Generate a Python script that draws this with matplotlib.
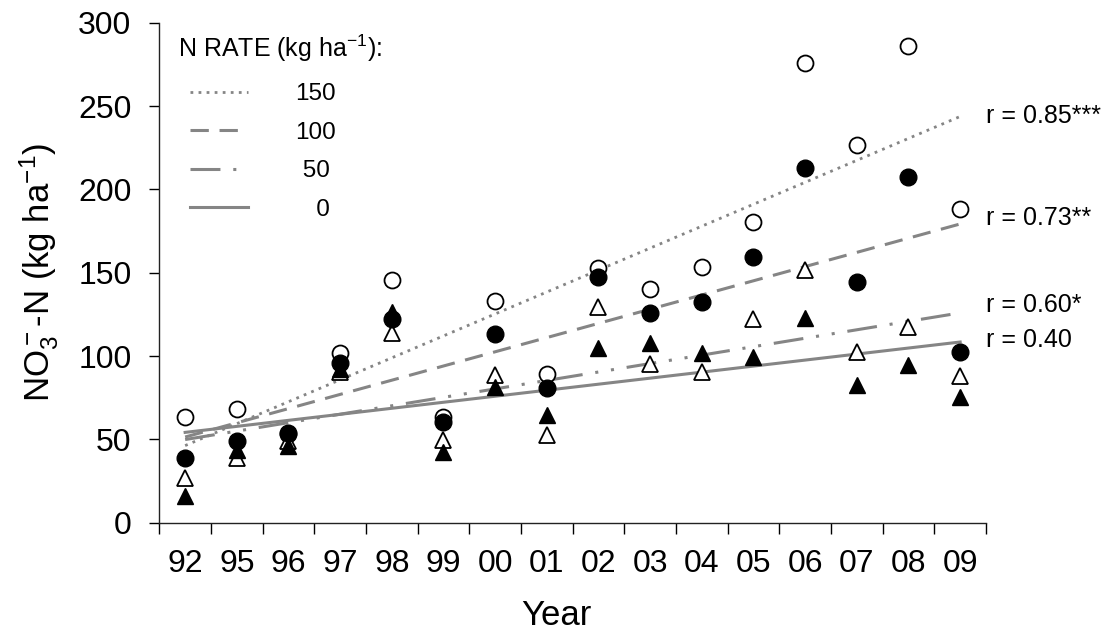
import matplotlib
matplotlib.use("Agg")
import matplotlib.pyplot as plt
import numpy as np

plt.rcParams['font.family'] = ['Liberation Sans', 'DejaVu Sans']
plt.rcParams['mathtext.fontset'] = 'custom'
plt.rcParams['mathtext.rm'] = 'Liberation Sans'
plt.rcParams['mathtext.it'] = 'Liberation Sans:italic'
plt.rcParams['mathtext.default'] = 'regular'

# data
years = ['92', '95', '96', '97', '98', '99', '00', '01',
         '02', '03', '04', '05', '06', '07', '08', '09']
n150 = [63.6, 68, 53, 101.6, 145.6, 63.5, 133.2, 89,
        152.6, 140.2, 153.2, 180.6, 275.6, 226.6, 285.8, 188]
n100 = [38.6, 49, 53.6, 95.6, 122.2, 60.6, 113.2, 80.6,
        147.6, 125.6, 132.2, 159.6, 212.6, 144.6, 207.2, 102.6]
n50 = [26.6, 38.6, 49, 90.6, 114, 49.6, 88.6, 52.6,
       129.2, 95, 90.6, 122.2, 151.6, 102.6, 117.6, 88]
n0 = [16, 43.6, 46, 92, 126.6, 42.2, 81.6, 64.6,
      104.6, 107.6, 101.6, 99.2, 122.6, 82.6, 94.6, 75.6]
rates = ['150', '100', '50', '0']
r_text = ['r = 0.85***', 'r = 0.73**', 'r = 0.60*', 'r = 0.40']

# styles / layout
gray = '#858585'
line_styles = [(0, (1, 1.9)), (0, (6, 3.5)), (0, (9.8, 4.2, 1, 4.2, 1, 4.2)), '-']
line_widths = [2.0, 2.2, 2.2, 2.2]
leg_labels = ['150', '100', ' 50', '   0']
r_offsets = [0, 3.5, 4.5, 1]

x = np.arange(len(years))

fig = plt.figure(figsize=(11.04, 6.34), dpi=100)
ax = fig.add_axes([0.1443, 0.1755, 0.7488, 0.7887])

# markers: open circle, open triangle, filled circle, filled triangle
ax.plot(x, n150, 'o', ms=11.5, mfc='white', mec='black', mew=1.3, zorder=3)
ax.plot(x, n50, '^', ms=11.5, mfc='white', mec='black', mew=1.3, zorder=3)
ax.plot(x, n100, 'o', ms=12, mfc='black', mec='black', mew=1, zorder=3)
ax.plot(x, n0, '^', ms=12, mfc='black', mec='black', mew=1, zorder=3)

# linear trend lines
handles = []
series = [n150, n100, n50, n0]
for i, ys in enumerate(series):
    k, b = np.polyfit(x, ys, 1)
    xs = np.array([x[0], x[-1]])
    ln, = ax.plot(xs, k * xs + b, color=gray, lw=line_widths[i],
                  linestyle=line_styles[i], zorder=2)
    handles.append(ln)
    ax.text(15.5, k * x[-1] + b + r_offsets[i], r_text[i], fontsize=18,
            ha='left', va='center', clip_on=False)

ax.set_xlim(-0.5, 15.5)
ax.set_ylim(0, 300)
ax.set_yticks(np.arange(0, 301, 50))
ax.set_xticks(x)
ax.set_xticklabels(years)
ax.set_xticks(np.arange(-0.5, 16, 1), minor=True)
ax.tick_params(axis='x', which='major', length=0, pad=19, labelsize=23)
ax.tick_params(axis='x', which='minor', length=8, width=1, direction='out')
ax.tick_params(axis='y', length=7, width=1, pad=13, labelsize=23, direction='out')

for s in ['top', 'right']:
    ax.spines[s].set_visible(False)
for s in ['left', 'bottom']:
    ax.spines[s].set_linewidth(1)
    ax.spines[s].set_color('#222222')

ax.set_xlabel('Year', fontsize=25)
ax.xaxis.set_label_coords(0.48, -0.153)
ax.set_ylabel('NO$_3^-$-N (kg ha$^{-1}$)', fontsize=25)
ax.yaxis.set_label_coords(-0.119, 0.5)

# legend
ax.text(0.023, 0.9488, 'N RATE (kg ha$^{-1}$):', fontsize=18,
        transform=ax.transAxes, ha='left', va='center')
ax.legend(handles, leg_labels, loc='upper left', bbox_to_anchor=(0.037, 0.879),
          frameon=False, fontsize=17.5, handlelength=2.4, handletextpad=1.95,
          labelspacing=0.68, borderpad=0, borderaxespad=0)

fig.savefig('out.png', dpi=100)
